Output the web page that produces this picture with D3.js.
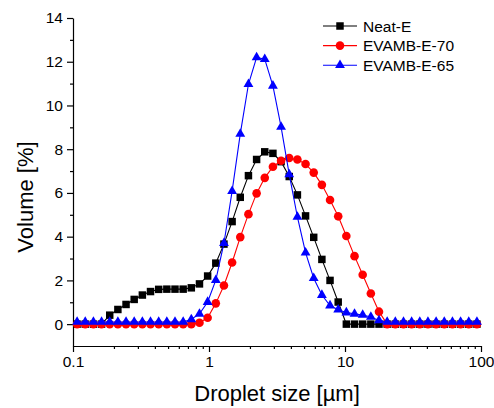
<!DOCTYPE html>
<html lang='en'>

<head>
   <meta charset='UTF-8'>
   <style>
      body {
         margin: 0;
         background: #fff;
      }

      svg {
         display: block;
         font-family: 'Liberation Sans', Arial, sans-serif;
      }

      .axis path,
      .axis line {
         stroke: #000;
         stroke-width: 1.2;
      }

      .axis text {
         font-size: 15.5px;
         fill: #000;
         font-family: 'Liberation Sans', Arial, sans-serif;
      }
   </style>
   <script src="https://cdnjs.cloudflare.com/ajax/libs/d3/7.8.5/d3.min.js"></script>
   <title>Droplet size distribution</title>
</head>

<body>
   <svg id='chart'></svg>

   <script>
      'use strict'

      // droplet size bin centres [µm]
      const sizes = [
         0.1072, 0.1230, 0.1413, 0.1622, 0.1862, 0.2138, 0.2455, 0.2818, 0.3236, 0.3715,
         0.4266, 0.4898, 0.5623, 0.6457, 0.7413, 0.8511, 0.9772, 1.122, 1.288, 1.479,
         1.698, 1.950, 2.239, 2.570, 2.951, 3.388, 3.890, 4.467, 5.129, 5.888,
         6.761, 7.762, 8.913, 10.23, 11.75, 13.49, 15.49, 17.78, 20.42, 23.44,
         26.92, 30.90, 35.48, 40.74, 46.77, 53.70, 61.66, 70.79, 81.28, 93.33]

      const neatE = [
         0, 0, 0, 0, 0.41, 0.67, 0.90, 1.13, 1.33, 1.49,
         1.59, 1.60, 1.60, 1.60, 1.66, 1.84, 2.20, 2.79, 3.66, 4.69,
         5.80, 6.79, 7.53, 7.88, 7.81, 7.43, 6.75, 5.91, 4.95, 3.97,
         2.96, 2.00, 1.01, 0, 0, 0, 0, 0, 0, 0,
         0, 0, 0, 0, 0, 0, 0, 0, 0, 0]

      const evamb70 = [
         0, 0, 0, 0, 0, 0, 0, 0, 0, 0,
         0, 0, 0, 0, 0, 0.06, 0.29, 0.95, 1.77, 2.82,
         3.98, 5.03, 5.98, 6.69, 7.20, 7.47, 7.60, 7.53, 7.32, 6.93,
         6.37, 5.68, 4.93, 4.03, 3.11, 2.26, 1.40, 0.57, 0, 0,
         0, 0, 0, 0, 0, 0, 0, 0, 0, 0]

      const evamb65 = [
         0.1, 0.1, 0.1, 0.1, 0.1, 0.1, 0.1, 0.1, 0.1, 0.1,
         0.1, 0.1, 0.1, 0.1, 0.22, 0.47, 1.01, 2.01, 3.70, 6.08,
         8.70, 10.97, 12.20, 12.12, 10.90, 9.02, 6.85, 4.90, 3.27, 2.10,
         1.33, 0.85, 0.66, 0.53, 0.47, 0.42, 0.33, 0.17, 0.1, 0.1,
         0.1, 0.1, 0.1, 0.1, 0.1, 0.1, 0.1, 0.1, 0.1, 0.1]

      const seriesNames = ['Neat-E', 'EVAMB-E-70', 'EVAMB-E-65']
      const seriesColors = ['#000000', '#ff0000', '#0000ff']
      const yTicks = [0, 2, 4, 6, 8, 10, 12, 14]
      const xTicks = [0.1, 1, 10, 100]
      const xTickLabels = ['0.1', '1', '10', '100']

      const width = 494,
         height = 408

      const svg = d3.select('svg')
         .attr('width', width)
         .attr('height', height)

      const x = d3.scaleLog([0.1, 100], [73, 481])
      const y = d3.scaleLinear([-1, 14], [346, 18])

      // y axis, major + minor ticks
      svg.append('g')
         .attr('class', 'axis')
         .attr('transform', 'translate(73,0)')
         .call(d3.axisLeft(y).tickValues(yTicks).tickSize(6).tickSizeOuter(0).tickPadding(4)
            .tickFormat(d3.format('d')))

      svg.append('g')
         .attr('class', 'axis')
         .attr('transform', 'translate(73,0)')
         .call(d3.axisLeft(y).tickValues([1, 3, 5, 7, 9, 11, 13]).tickSize(3).tickFormat(''))
         .select('.domain').remove()

      // x axis
      const minorX = []
      for (const dec of [0.1, 1, 10])
         for (let k = 2; k <= 9; k++) minorX.push(dec * k)

      svg.append('g')
         .attr('class', 'axis')
         .attr('transform', 'translate(0,346)')
         .call(d3.axisBottom(x).tickValues(xTicks).tickSize(6).tickSizeOuter(0).tickPadding(4)
            .tickFormat((d, i) => xTickLabels[i]))

      svg.append('g')
         .attr('class', 'axis')
         .attr('transform', 'translate(0,346)')
         .call(d3.axisBottom(x).tickValues(minorX).tickSize(3).tickFormat(''))
         .select('.domain').remove()

      // axis titles
      svg.append('text')
         .attr('x', 277)
         .attr('y', 401)
         .attr('text-anchor', 'middle')
         .style('font-size', '22px')
         .text('Droplet size [µm]')

      svg.append('text')
         .attr('transform', 'translate(33,197) rotate(-90)')
         .attr('text-anchor', 'middle')
         .style('font-size', '22px')
         .text('Volume [%]')

      const symbols = [
         d3.symbol(d3.symbolSquare, 56),
         d3.symbol(d3.symbolCircle, 58),
         d3.symbol(d3.symbolTriangle, 42)
      ]

      const allSeries = [neatE, evamb70, evamb65]

      allSeries.forEach((values, s) => {
         const pts = values.map((v, i) => [sizes[i], v])

         svg.append('path')
            .datum(pts)
            .attr('fill', 'none')
            .attr('stroke', seriesColors[s])
            .attr('stroke-width', 1.1)
            .attr('d', d3.line().x(d => x(d[0])).y(d => y(d[1])))

         svg.append('g')
            .selectAll('path')
            .data(pts)
            .enter()
            .append('path')
            .attr('transform', d => `translate(${x(d[0])},${y(d[1])})`)
            .attr('d', symbols[s])
            .attr('fill', seriesColors[s])
      })

      // legend
      const legend = svg.append('g')
      seriesNames.forEach((name, s) => {
         const ly = 26 + s * 19.6
         legend.append('line')
            .attr('x1', 323).attr('x2', 357)
            .attr('y1', ly).attr('y2', ly)
            .attr('stroke', seriesColors[s])
            .attr('stroke-width', 1.1)
         legend.append('path')
            .attr('transform', `translate(340,${ly})`)
            .attr('d', symbols[s])
            .attr('fill', seriesColors[s])
         legend.append('text')
            .attr('x', 363)
            .attr('y', ly)
            .attr('dy', '0.36em')
            .style('font-size', '15.5px')
            .text(name)
      })
   </script>
</body>

</html>
